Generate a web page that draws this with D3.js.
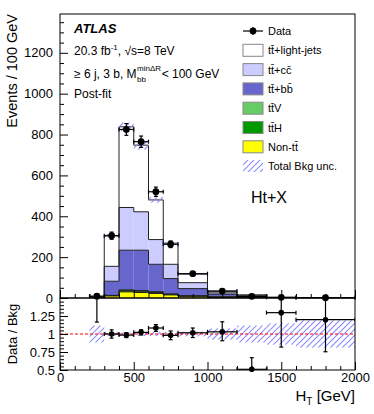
<!DOCTYPE html>
<html><head><meta charset="utf-8">
<script src="https://cdn.jsdelivr.net/npm/d3@7"></script>
<style>
html,body{margin:0;padding:0;background:#fff;}
svg text{font-family:"Liberation Sans",Arial,Helvetica,sans-serif;fill:#000;}
</style></head>
<body>
<svg id="c" width="374" height="414"></svg>
<script>
// ---- data (events / 100 GeV) ----
const binEdges = [200,300,400,500,600,700,800,1000,1200,1400,1600,2000];
const nonTT   = [1.0, 10, 30, 27, 22, 15, 8, 4, 2, 0.4, 0.2];
const ttH     = [0.2, 2, 6, 6, 5, 3, 2, 1, 0.5, 0.1, 0.06];
const ttV     = [0.2, 1, 4, 4, 4, 2, 1.5, 1, 0.5, 0.1, 0.06];
const ttbb    = [1.6, 69, 194, 197, 134, 75, 34.5, 12, 5, 0.9, 0.5];
const ttcc    = [1.0, 73, 209, 188, 121, 70, 29, 7, 3, 0.5, 0.3];
const ttlight = [1.2, 150, 395, 326, 194, 103, 42, 8, 4.7, 0.7, 0.34];
const dataVals = [9, 305, 825, 765, 520, 263, 119, 34, 8, 3.5, 1.75];
const dataErrLo = [2.94, 17.5, 28.7, 27.7, 22.8, 16.2, 7.7, 4.1, 1.96, 1.29, 0.65];
const dataErrHi = [4.11, 17.5, 28.7, 27.7, 22.8, 16.2, 7.7, 4.6, 2.54, 1.89, 0.94];
const bkgUnc = [0.12, 0.03, 0.025, 0.03, 0.03, 0.03, 0.035, 0.08, 0.12, 0.15, 0.19];
const mainYTicks = [0,200,400,600,800,1000,1200];
const ratioYTicks = [0.5,0.75,1,1.25];
const xTickLabels = [0,500,1000,1500,2000];

const layers = [
  {name:"Non-tt\u0304", vals:nonTT, color:"#ffff00"},
  {name:"tt\u0304H", vals:ttH, color:"#009900"},
  {name:"tt\u0304V", vals:ttV, color:"#66cc66"},
  {name:"tt\u0304+bb\u0304", vals:ttbb, color:"#6666cc"},
  {name:"tt\u0304+cc\u0304", vals:ttcc, color:"#ccccff"},
  {name:"tt\u0304+light-jets", vals:ttlight, color:"#ffffff"}
];

const L=60, R=355, T=14, MB=298, RB=370;
const HATCH = "#8a8aff";
const svg = d3.select("#c");
const x = d3.scaleLinear().domain([0,2000]).range([L,R]);
const y = d3.scaleLinear().domain([0,1390]).range([MB,T]);
const yr = d3.scaleLinear().domain([0.5,1.5]).range([RB,MB]);

const defs = svg.append("defs");
defs.append("clipPath").attr("id","clipMain").append("rect")
  .attr("x",L).attr("y",T).attr("width",R-L).attr("height",MB-T);
defs.append("clipPath").attr("id","clipRatio").append("rect")
  .attr("x",L).attr("y",MB).attr("width",R-L).attr("height",RB-MB);

let hid = 0;
function hatchRect(parent, x0, y0, w, h){
  if(h<=0.2) return;
  const id = "hc"+(hid++);
  defs.append("clipPath").attr("id",id).append("rect").attr("x",x0).attr("y",y0).attr("width",w).attr("height",h);
  const g = parent.append("g").attr("clip-path",`url(#${id})`);
  const sp = 6;
  const start = Math.floor((x0+y0)/sp)*sp;
  for(let s=start; s<=x0+w+y0+h+sp; s+=sp){
    g.append("line").attr("x1",s-(y0+h)).attr("y1",y0+h).attr("x2",s-y0).attr("y2",y0)
      .attr("stroke",HATCH).attr("stroke-width",1.1);
  }
}

const nb = dataVals.length;
const bins = d3.range(nb).map(i=>({x0:binEdges[i], x1:binEdges[i+1], c:(binEdges[i]+binEdges[i+1])/2}));

// stacks
const gMain = svg.append("g").attr("clip-path","url(#clipMain)");
let cum = new Array(nb).fill(0);
const tops = [];
layers.forEach(ly=>{
  const lo = cum.slice();
  const hi = cum.map((v,i)=>v+ly.vals[i]);
  gMain.append("g").selectAll("rect").data(bins).join("rect")
    .attr("x",d=>x(d.x0)).attr("width",d=>x(d.x1)-x(d.x0))
    .attr("y",(d,i)=>y(hi[i])).attr("height",(d,i)=>y(lo[i])-y(hi[i]))
    .attr("fill",ly.color);
  tops.push(hi);
  cum = hi;
});
const total = cum;
tops.forEach(hi=>{
  const pts=[[x(binEdges[0]),y(0)]];
  bins.forEach((b,i)=>{pts.push([x(b.x0),y(hi[i])]);pts.push([x(b.x1),y(hi[i])]);});
  pts.push([x(binEdges[nb]),y(0)]);
  gMain.append("path").attr("d",d3.line()(pts)).attr("fill","none")
    .attr("stroke","#222").attr("stroke-width",1);
});
bins.forEach((b,i)=>{
  const yt = y(total[i]*(1+bkgUnc[i])), yb = y(total[i]*(1-bkgUnc[i]));
  hatchRect(gMain, x(b.x0), yt, x(b.x1)-x(b.x0), yb-yt);
});

function errBars(g, vals, lo, hi, ys, cap){
  const gg = g.append("g").attr("stroke","#000").attr("stroke-width",1.2);
  bins.forEach((b,i)=>{
    const cy = ys(vals[i]), cx = x(b.c);
    gg.append("line").attr("x1",x(b.x0)).attr("x2",x(b.x1)).attr("y1",cy).attr("y2",cy);
    gg.append("line").attr("x1",x(b.x0)).attr("x2",x(b.x0)).attr("y1",cy-cap).attr("y2",cy+cap);
    gg.append("line").attr("x1",x(b.x1)).attr("x2",x(b.x1)).attr("y1",cy-cap).attr("y2",cy+cap);
    const ylo = ys(vals[i]-lo[i]), yhi = ys(vals[i]+hi[i]);
    gg.append("line").attr("x1",cx).attr("x2",cx).attr("y1",ylo).attr("y2",yhi);
    gg.append("line").attr("x1",cx-cap).attr("x2",cx+cap).attr("y1",ylo).attr("y2",ylo);
    gg.append("line").attr("x1",cx-cap).attr("x2",cx+cap).attr("y1",yhi).attr("y2",yhi);
  });
}
errBars(svg.append("g"), dataVals, dataErrLo, dataErrHi, y, 2);
svg.append("g").selectAll("circle").data(bins).join("circle")
  .attr("cx",d=>x(d.c)).attr("cy",(d,i)=>y(dataVals[i])).attr("r",3.4).attr("fill","#000");

// ratio panel
const gR = svg.append("g").attr("clip-path","url(#clipRatio)");
bins.forEach((b,i)=>{
  const yt = yr(1+bkgUnc[i]), yb = yr(1-bkgUnc[i]);
  hatchRect(gR, x(b.x0), yt, x(b.x1)-x(b.x0), yb-yt);
});
gR.append("line").attr("x1",L).attr("x2",R).attr("y1",yr(1)).attr("y2",yr(1))
  .attr("stroke","#ff0000").attr("stroke-width",1).attr("stroke-dasharray","3,2");
const ratio = dataVals.map((v,i)=>v/total[i]);
const rLo = dataErrLo.map((v,i)=>v/total[i]);
const rHi = dataErrHi.map((v,i)=>v/total[i]);
errBars(gR, ratio, rLo, rHi, yr, 2);
svg.append("g").selectAll("circle").data(bins.filter((d,i)=>ratio[i]>=0.5&&ratio[i]<=1.5)).join("circle")
  .attr("cx",d=>x(d.c)).attr("cy",d=>yr(ratio[bins.indexOf(d)])).attr("r",2.8).attr("fill","#000");

// axes
function styleAxis(g){ g.selectAll(".domain").remove(); g.selectAll("line").attr("stroke","#000"); }
const fs = "13px";
svg.append("g").attr("transform",`translate(${L},0)`)
  .call(d3.axisLeft(y).tickValues(d3.range(0,1391,50).filter(v=>v%200)).tickSize(-4).tickFormat(""))
  .call(styleAxis);
svg.append("g").attr("transform",`translate(${L},0)`)
  .call(d3.axisLeft(y).tickValues(mainYTicks).tickSize(-8).tickPadding(7).tickFormat(d3.format("d")))
  .call(styleAxis).call(g=>g.selectAll("text").attr("font-size",fs).attr("font-family",null));
svg.append("g").attr("transform",`translate(${L},0)`)
  .call(d3.axisLeft(yr).tickValues(d3.range(0.55,1.5,0.05).filter(v=>Math.abs(v*4-Math.round(v*4))>0.01)).tickSize(-4).tickFormat(""))
  .call(styleAxis);
svg.append("g").attr("transform",`translate(${L},0)`)
  .call(d3.axisLeft(yr).tickValues(ratioYTicks).tickSize(-8).tickPadding(5).tickFormat(d=>String(d)))
  .call(styleAxis).call(g=>g.selectAll("text").attr("font-size",fs).attr("font-family",null));
[MB,RB].forEach((yy,k)=>{
  svg.append("g").attr("transform",`translate(0,${yy})`)
    .call(d3.axisBottom(x).tickValues(d3.range(0,2001,100).filter(v=>v%500)).tickSize(-4).tickFormat(""))
    .call(styleAxis);
  svg.append("g").attr("transform",`translate(0,${yy})`)
    .call(d3.axisBottom(x).tickValues(xTickLabels).tickSize(-8).tickPadding(3).tickFormat(k?d3.format("d"):()=>""))
    .call(styleAxis).call(g=>g.selectAll("text").attr("font-size",fs).attr("font-family",null));
});
svg.append("rect").attr("x",L).attr("y",T).attr("width",R-L).attr("height",MB-T)
  .attr("fill","none").attr("stroke","#000").attr("stroke-width",1);
svg.append("rect").attr("x",L).attr("y",MB).attr("width",R-L).attr("height",RB-MB)
  .attr("fill","none").attr("stroke","#000").attr("stroke-width",1);

// titles
svg.append("text").attr("transform","translate(17,14) rotate(-90)").attr("text-anchor","end")
  .attr("font-size","14.5px").text("Events / 100 GeV");
svg.append("text").attr("transform","translate(17,334) rotate(-90)").attr("text-anchor","middle")
  .attr("font-size","13px").text("Data / Bkg");
const xt = svg.append("text").attr("x",R).attr("y",401).attr("text-anchor","end").attr("font-size","15px");
xt.append("tspan").text("H");
xt.append("tspan").attr("font-size","10px").attr("dy",4).text("T");
xt.append("tspan").attr("dy",-4).text(" [GeV]");

// labels
svg.append("text").attr("x",74).attr("y",33).attr("font-size","13px").attr("font-weight","bold")
  .attr("font-style","italic").text("ATLAS");
const t2 = svg.append("text").attr("x",74).attr("y",55).attr("font-size","12px");
t2.append("tspan").text("20.3 fb");
t2.append("tspan").attr("font-size","8px").attr("dy",-5).text("-1");
t2.append("tspan").attr("dy",5).text(", \u221As=8 TeV");
const t3 = svg.append("text").attr("x",74).attr("y",78).attr("font-size","12px");
t3.append("tspan").text("\u2265 6 j, 3 b, M");
const t3b = svg.append("text").attr("y",71).attr("font-size","8px").text("min\u0394R");
const t3c = svg.append("text").attr("y",82).attr("font-size","8px").text("bb");
const t3d = svg.append("text").attr("y",78).attr("font-size","12px").text(" < 100 GeV");
const w3 = t3.node().getComputedTextLength();
t3b.attr("x",74+w3+0.5); t3c.attr("x",74+w3+0.5);
t3d.attr("x",74+w3+1+t3b.node().getComputedTextLength());
svg.append("text").attr("x",74).attr("y",98).attr("font-size","12px").text("Post-fit");
svg.append("text").attr("x",251).attr("y",203).attr("font-size","16px").text("Ht+X");

// legend
const lx=243, lw=20, lh=12, ty=268;
const legItems = [{name:"Data",type:"data"}].concat(layers.slice().reverse().map(l=>({name:l.name,type:"box",color:l.color})))
  .concat([{name:"Total Bkg unc.",type:"hatch"}]);
legItems.forEach((it,k)=>{
  const cy = 31 + k*19.3;
  if(it.type==="data"){
    svg.append("line").attr("x1",lx).attr("x2",lx+lw).attr("y1",cy).attr("y2",cy).attr("stroke","#000").attr("stroke-width",1.2);
    svg.append("line").attr("x1",lx+lw/2).attr("x2",lx+lw/2).attr("y1",cy-4).attr("y2",cy+4).attr("stroke","#000").attr("stroke-width",1.2);
    svg.append("circle").attr("cx",lx+lw/2).attr("cy",cy).attr("r",3.4).attr("fill","#000");
  } else if(it.type==="box"){
    svg.append("rect").attr("x",lx).attr("y",cy-lh/2).attr("width",lw).attr("height",lh)
      .attr("fill",it.color).attr("stroke","#888").attr("stroke-width",1);
  } else {
    hatchRect(svg.append("g"), lx, cy-lh/2, lw, lh);
  }
  svg.append("text").attr("x",ty).attr("y",cy+4).attr("font-size","11px").text(it.name);
});
</script>
</body></html>
